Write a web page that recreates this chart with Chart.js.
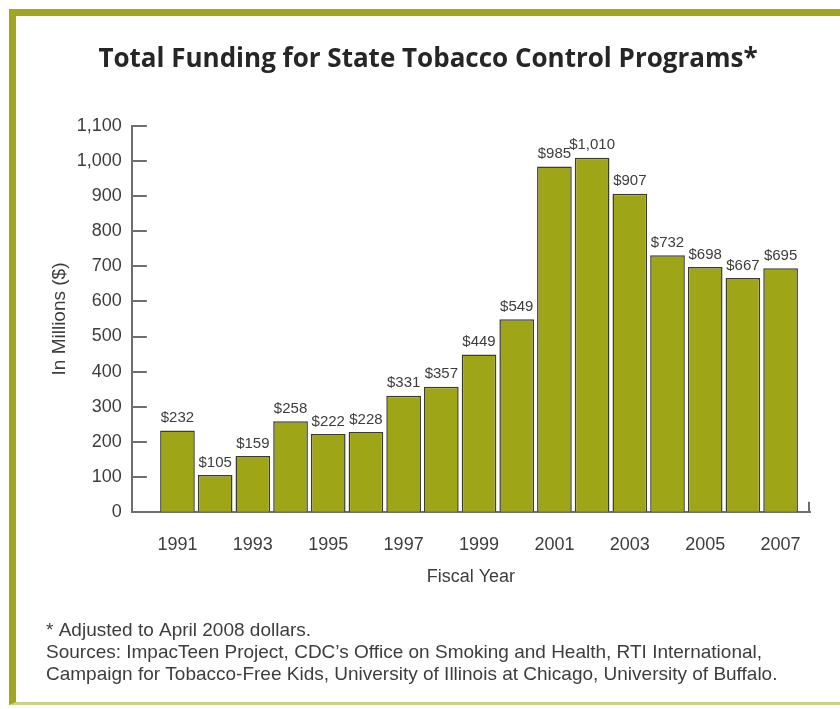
<!DOCTYPE html>
<html>
<head>
<meta charset="utf-8">
<script src="https://cdn.jsdelivr.net/npm/chart.js@4.4.1/dist/chart.umd.min.js"></script>
<style>
  body { margin: 0; background: #fff; }
  #frame {
    position: absolute; left: 9px; top: 9px; width: 831px; height: 686px;
    border-top: 7px solid #a2a61e; border-left: 7px solid #a2a61e;
    border-bottom: 3px solid #cbd28c;
  }
  #wrap { position: absolute; left: 0; top: 0; width: 840px; height: 709px; }
</style>
</head>
<body>
<div id="frame"></div>
<div id="wrap"><canvas id="fundingChart" width="840" height="709"></canvas></div>
<script>
const years = [1991, 1992, 1993, 1994, 1995, 1996, 1997, 1998, 1999, 2000, 2001, 2002, 2003, 2004, 2005, 2006, 2007];
const funding = [232, 105, 159, 258, 222, 228, 331, 357, 449, 549, 985, 1010, 907, 732, 698, 667, 695];
const yearTicks = [1991, 1993, 1995, 1997, 1999, 2001, 2003, 2005, 2007];
const footnote = [
    '* Adjusted to April 2008 dollars.',
    'Sources: ImpacTeen Project, CDC\u2019s Office on Smoking and Health, RTI International,',
    'Campaign for Tobacco-Free Kids, University of Illinois at Chicago, University of Buffalo.'
];

const textColor = '#3d3d3d';
const axisColor = '#6e6e6e';
const sansFont = '"Liberation Sans", Arial, sans-serif';

// etiquetas "$232" encima de cada barra
const valueLabels = {
    id: 'valueLabels',
    afterDatasetsDraw(chart) {
        const ctx = chart.ctx;
        const meta = chart.getDatasetMeta(0);
        ctx.save();
        ctx.font = '15px ' + sansFont;
        ctx.fillStyle = textColor;
        ctx.textAlign = 'center';
        ctx.textBaseline = 'bottom';
        meta.data.forEach(function(bar, i) {
            ctx.fillText('$' + funding[i].toLocaleString('en-US'), bar.x, bar.y - 5);
        });
        ctx.restore();
    }
};

// marcas del eje Y hacia adentro y marca final del eje X
const innerTicks = {
    id: 'innerTicks',
    afterDraw(chart) {
        const ctx = chart.ctx;
        const y = chart.scales.y;
        const x = chart.scales.x;
        ctx.save();
        ctx.strokeStyle = axisColor;
        ctx.lineWidth = 2;
        ctx.beginPath();
        y.ticks.forEach(function(t) {
            const py = Math.round(y.getPixelForValue(t.value));
            ctx.moveTo(x.left, py);
            ctx.lineTo(x.left + 15, py);
        });
        ctx.moveTo(x.right - 1, y.bottom);
        ctx.lineTo(x.right - 1, y.bottom - 10);
        ctx.stroke();
        ctx.restore();
    }
};

const ctx = document.getElementById('fundingChart').getContext('2d');

const fundingChart = new Chart(ctx, {
    type: 'bar',
    data: {
        datasets: [{
            data: years.map(function(yr, i) { return { x: yr, y: funding[i] }; }),
            backgroundColor: '#9ea618',
            borderColor: '#3b3b30',
            borderWidth: 1.5,
            categoryPercentage: 0.92,
            barPercentage: 1
        }]
    },
    options: {
        responsive: false,
        animation: false,
        layout: { padding: { left: 46, right: 30, top: 16, bottom: 8 } },
        plugins: {
            legend: { display: false },
            tooltip: { enabled: false },
            title: {
                display: true,
                text: 'Total Funding for State Tobacco Control Programs*',
                color: '#262626',
                font: { family: '"Open Sans", sans-serif', size: 26, weight: 'bold' },
                padding: { top: 28, bottom: 51 }
            },
            subtitle: {
                display: true,
                position: 'bottom',
                align: 'start',
                text: footnote,
                color: textColor,
                font: { family: sansFont, size: 19, lineHeight: 22 / 19 },
                padding: { top: 32, bottom: 15 }
            }
        },
        scales: {
            x: {
                type: 'linear',
                offset: false,
                min: 1989.79,
                max: 2007.78,
                afterBuildTicks: function(scale) {
                    scale.ticks = yearTicks.map(function(v) { return { value: v }; });
                },
                grid: { display: false, drawTicks: false },
                border: { display: true, color: axisColor, width: 2 },
                ticks: {
                    color: textColor,
                    padding: 22,
                    maxRotation: 0,
                    font: { family: sansFont, size: 18 },
                    callback: function(v) { return String(v); }
                },
                title: {
                    display: true,
                    text: 'Fiscal Year',
                    color: textColor,
                    font: { family: sansFont, size: 18 },
                    padding: { top: -11, bottom: 0 }
                }
            },
            y: {
                min: 0,
                max: 1100,
                grid: { display: false, drawTicks: false },
                border: { display: true, color: axisColor, width: 2 },
                ticks: {
                    stepSize: 100,
                    color: textColor,
                    padding: 10,
                    font: { family: sansFont, size: 18 },
                    callback: function(v) { return v.toLocaleString('en-US'); }
                },
                title: {
                    display: true,
                    text: 'In Millions ($)',
                    color: textColor,
                    font: { family: sansFont, size: 19 },
                    padding: { top: 2, bottom: -4 }
                }
            }
        }
    },
    plugins: [valueLabels, innerTicks]
});
</script>
</body>
</html>
